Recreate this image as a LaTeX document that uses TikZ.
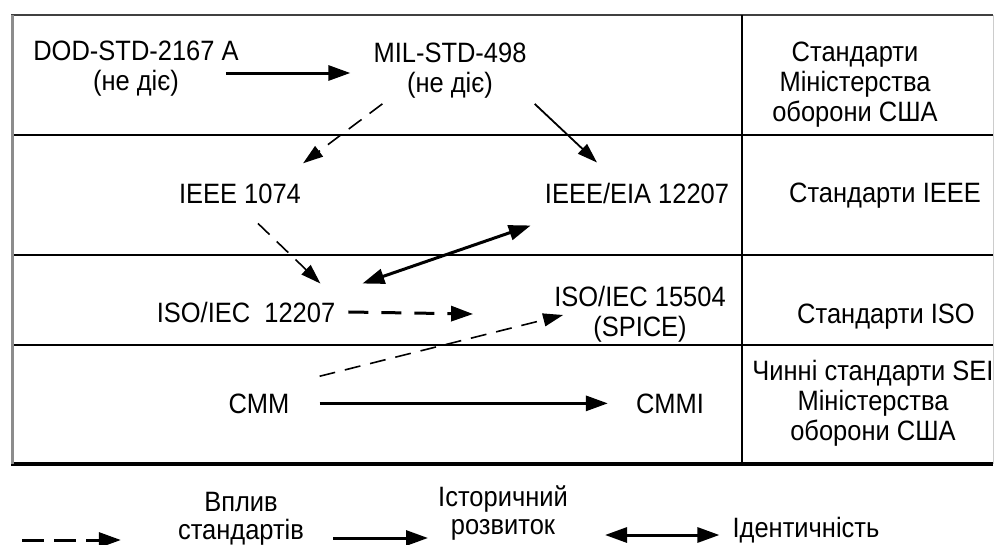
\documentclass[tikz,border=0pt]{standalone}
\usepackage{fontspec}
\setmainfont{Liberation Sans}[FakeStretch=0.91]
\usetikzlibrary{arrows.meta}
\begin{document}
\begin{tikzpicture}[x=1pt, y=-1pt, font=\fontsize{28}{30}\selectfont, line join=round,
		every node/.style={inner sep=0pt, align=center},
		grid/.style={line width=1.5pt},
		hist/.style={line width=3pt, -{Triangle[length=22pt,width=15pt]}},
		histthin/.style={line width=1.8pt, -{Triangle[length=20pt,width=13pt]}},
		infl/.style={line width=1.6pt, dash pattern=on 16pt off 10pt, -{Triangle[length=20pt,width=13pt]}},
		inflthick/.style={line width=3pt, dash pattern=on 20pt off 13pt, -{Triangle[length=22pt,width=15pt]}},
		ident/.style={line width=3pt, {Triangle[length=22pt,width=15pt]}-{Triangle[length=22pt,width=15pt]}}]
		\useasboundingbox (0,0) rectangle (995,544);
		% table
		\draw[line width=2pt, black!75] (11,15) -- (993,15);
		\draw[grid] (11,135) -- (993,135) (11,255) -- (993,255) (11,345) -- (993,345);
		\draw[line width=3.5pt] (11,464) -- (993,464);
		\draw[line width=3pt, black!45] (12,15) -- (12,464);
		\draw[grid] (742,15) -- (742,464);
		\draw[line width=1pt, black!20] (993,15) -- (993,464);
		% standards
		\node (dod) at (136,69) {DOD-STD-2167 A\\(не діє)};
		\node (mil) at (450,71) {MIL-STD-498\\(не діє)};
		\node[anchor=base] (ieee) at (240,203) {IEEE 1074};
		\node[anchor=base] (eia) at (637,203) {IEEE/EIA 12207};
		\node[anchor=base] (iso) at (246,322) {ISO/IEC\ \ 12207};
		\node (spice) at (640,314) {ISO/IEC 15504\\(SPICE)};
		\node[anchor=base] (cmm) at (259,413) {CMM};
		\node[anchor=base] (cmmi) at (670,413) {CMMI};
		% right column
		\node (coldod) at (855,85) {Стандарти\\Міністерства\\оборони США};
		\node[anchor=base] (colieee) at (885,202) {Стандарти IEEE};
		\node[anchor=base] (coliso) at (886,323) {Стандарти ISO};
		\node (colsei) at (873,403) {Чинні стандарти SEI\\Міністерства\\оборони США};
		% links
		\draw[hist] ([shift={(-13,4)}]dod.east) -- ([shift={(-23,2)}]mil.west);
		\draw[infl] ([shift={(9,5)}]mil.south west) -- ([shift={(2,-20)}]ieee.north east);
		\draw[histthin] ([shift={(8,5)}]mil.south east) -- ([shift={(-40,-20)}]eia.north);
		\draw[infl] ([shift={(18,20)}]ieee.south) -- ([shift={(-15,-18)}]iso.north east);
		\draw[ident] ([shift={(-14,22)}]eia.south west) -- ([shift={(27,-18)}]iso.north east);
		\draw[inflthick] ([shift={(13,0)}]iso.east) -- ([shift={(-81,0)}]spice.west);
		\draw[infl] ([shift={(30,-17)}]cmm.north east) -- ([shift={(9,1)}]spice.west);
		\draw[hist] ([shift={(30,0)}]cmm.east) -- ([shift={(-28,0)}]cmmi.west);
		% legend
		\node[anchor=north, font=\fontsize{28}{28}\selectfont] (leginfl) at (241,492) {Вплив\\стандартів};
		\node[anchor=north, font=\fontsize{28}{28}\selectfont] (leghist) at (503,486) {Історичний\\розвиток};
		\node[anchor=base] (legident) at (806,537) {Ідентичність};
		\coordinate (leginflstart) at (22,540);
		\coordinate (leghiststart) at (333,538);
		\coordinate (legidentstart) at (605,535);
		\draw[inflthick, dash pattern=on 22pt off 10pt] (leginflstart) -- ([xshift=-57pt]leginfl.west |- leginflstart);
		\draw[hist] (leghiststart) -- ([shift={(-10,0)}]leghist.south west |- leghiststart);
		\draw[ident] (legidentstart) -- ([xshift=-13pt]legident.west |- legidentstart);
\end{tikzpicture}
\end{document}
